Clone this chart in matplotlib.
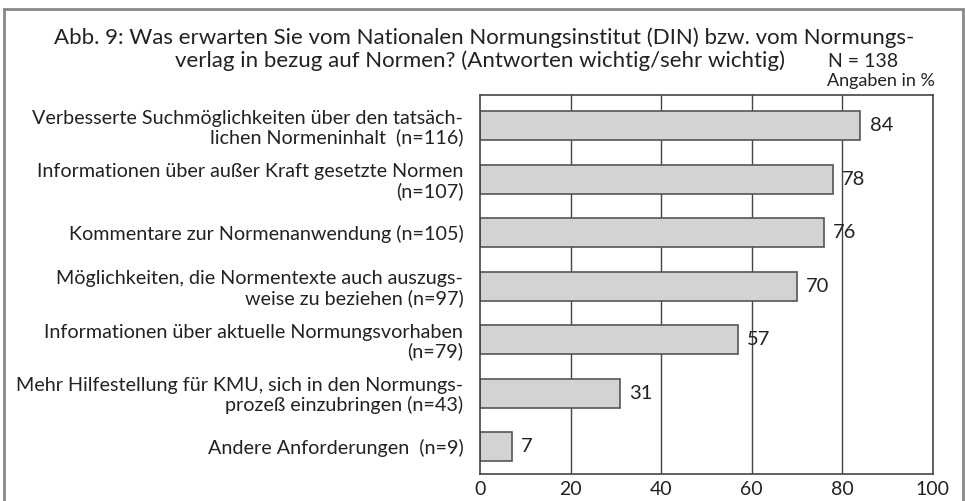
import matplotlib
matplotlib.use("Agg")
import matplotlib.pyplot as plt
from matplotlib.patches import Rectangle

# data
labels = [
    "Verbesserte Suchmöglichkeiten über den tatsäch-\nlichen Normeninhalt  (n=116)",
    "Informationen über außer Kraft gesetzte Normen\n(n=107)",
    "Kommentare zur Normenanwendung (n=105)",
    "Möglichkeiten, die Normentexte auch auszugs-\nweise zu beziehen (n=97)",
    "Informationen über aktuelle Normungsvorhaben\n(n=79)",
    "Mehr Hilfestellung für KMU, sich in den Normungs-\nprozeß einzubringen (n=43)",
    "Andere Anforderungen  (n=9)",
]
values = [84, 78, 76, 70, 57, 31, 7]
xticks = [0, 20, 40, 60, 80, 100]

title1 = "Abb. 9: Was erwarten Sie vom Nationalen Normungsinstitut (DIN) bzw. vom Normungs-"
title2 = "verlag in bezug auf Normen? (Antworten wichtig/sehr wichtig)"
note1 = "N = 138"
note2 = "Angaben in %"

label_font = "Lato"
title_font = "Lato"
text_color = "#222222"

fig = plt.figure(figsize=(9.65, 5.01), dpi=100)
ax = fig.add_axes([0.4974, 0.0539, 0.4694, 0.7559])

pos = list(range(len(values)))
ax.barh(pos, values, height=0.55, color="#d3d3d3", edgecolor="#555555",
        linewidth=1.2, zorder=2)

for x in xticks[1:-1]:
    ax.axvline(x, color="#444444", linewidth=1.0, zorder=1)

for p, v in zip(pos, values):
    ax.text(v + 2, p, str(v), va="center", ha="left", fontsize=14.5,
            family=label_font, color=text_color)

ax.set_xlim(0, 100)
ax.set_ylim(6.51, -0.57)
ax.set_xticks(xticks)
ax.set_xticklabels([str(t) for t in xticks], fontsize=14, family=label_font,
                   color=text_color)
ax.set_yticks(pos)
ax.set_yticklabels(labels, fontsize=14.2, family=label_font, color=text_color,
                   linespacing=1.1, multialignment="right")
ax.tick_params(axis="both", length=0)
ax.tick_params(axis="y", pad=12)
ax.tick_params(axis="x", pad=5)
for s in ax.spines.values():
    s.set_color("#444444")
    s.set_linewidth(1.2)

# titles and notes
fig.text(54 / 965, 1 - 38 / 501, title1, ha="left", va="center", fontsize=16,
         family=title_font, color=text_color)
fig.text(785 / 965, 1 - 61 / 501, title2, ha="right", va="center", fontsize=16,
         family=title_font, color=text_color)
fig.text(828 / 965, 1 - 62 / 501, note1, ha="left", va="center", fontsize=14,
         family=label_font, color=text_color)
fig.text(935 / 965, 1 - 81 / 501, note2, ha="right", va="center", fontsize=13,
         family=label_font, color=text_color)

# outer frame
fig.patches.append(Rectangle((4 / 965, -0.05), 959 / 965, 1.05 - 9 / 501,
                             transform=fig.transFigure, fill=False,
                             edgecolor="#888888", linewidth=2))

fig.savefig("out.png", dpi=100)
